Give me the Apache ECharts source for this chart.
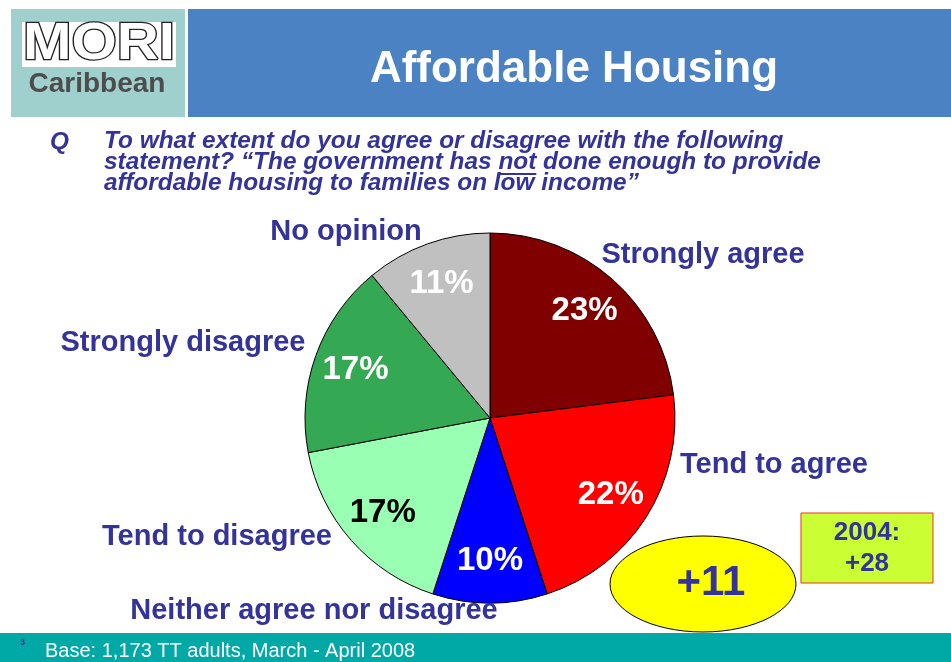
<!DOCTYPE html>
<html>
<head>
<meta charset="utf-8">
<script src="https://cdn.jsdelivr.net/npm/echarts@6/dist/echarts.min.js"></script>
<style>
  html, body { margin: 0; padding: 0; background: #fff; }
  #main { width: 951px; height: 662px; }
</style>
</head>
<body>
<div id="main"></div>
<script>
// survey answers, clockwise from 12 o'clock
const categories = ['Strongly agree', 'Tend to agree', 'Neither agree nor disagree', 'Tend to disagree', 'Strongly disagree', 'No opinion']
const shares = [23, 22, 10, 17, 17, 11]
const netScore = '+11'
const netScore2004 = '+28'

const sliceColors = ['#800000', '#ff0000', '#0000ff', '#99ffb3', '#34a853', '#c0c0c0']
const pctColors = ['#fff', '#fff', '#fff', '#000', '#fff', '#fff']
// where the category names sit (centre of text)
const namePos = [[703, 255], [774, 465], [314, 611], [217, 537], [183, 343], [346, 232]]

const navy = '#333399'
const qFont = 'italic bold 24.4px "Liberation Sans", Arial'
const qLine2 = 'statement? \u201cThe government has '

// measure where "not" falls so it can be underlined
const ctx = document.createElement('canvas').getContext('2d')
ctx.font = qFont
const notX = 104 + ctx.measureText(qLine2).width
const notW = ctx.measureText('not').width

const chart = echarts.init(document.getElementById('main'))

chart.setOption({
  backgroundColor: '#fff',
  animation: false,
  graphic: [
    { type: 'rect', shape: { x: 11, y: 9, width: 174, height: 108 }, style: { fill: '#9fd0cd' } },
    { type: 'rect', shape: { x: 188, y: 9, width: 763, height: 108 }, style: { fill: '#4a82c3' } },
    { type: 'rect', shape: { x: 22, y: 22, width: 154, height: 45 }, style: { fill: '#fff' } },
    { type: 'text', x: 99, y: 45, scaleX: 1.12, style: { text: 'MORI', fill: '#fff', stroke: '#222', lineWidth: 2.5, font: 'bold 52px "Liberation Sans", Arial', align: 'center', verticalAlign: 'middle' } },
    { type: 'text', x: 97, y: 84, style: { text: 'Caribbean', fill: '#4d4d4d', font: 'bold 28px "Liberation Sans", Arial', align: 'center', verticalAlign: 'middle' } },
    { type: 'text', x: 574, y: 70, style: { text: 'Affordable Housing', fill: '#fff', font: 'bold 44px "Liberation Sans", Arial', align: 'center', verticalAlign: 'middle' } },
    { type: 'text', x: 50, y: 142, style: { text: 'Q', fill: navy, font: qFont, verticalAlign: 'middle' } },
    {
      type: 'text', x: 104, y: 131,
      style: {
        text: 'To what extent do you agree or disagree with the following\n' + qLine2 + 'not done enough to provide\naffordable housing to families on low income\u201d',
        fill: navy, font: qFont, lineHeight: 21, verticalAlign: 'top'
      }
    },
    { type: 'line', shape: { x1: notX, y1: 174, x2: notX + notW, y2: 174 }, style: { stroke: navy, lineWidth: 2 } },
    { type: 'ellipse', shape: { cx: 703, cy: 584, rx: 93, ry: 48 }, style: { fill: '#ffff00', stroke: '#000', lineWidth: 1 } },
    { type: 'text', x: 711, y: 583, style: { text: netScore, fill: navy, font: 'bold 42px "Liberation Sans", Arial', align: 'center', verticalAlign: 'middle' } },
    { type: 'rect', shape: { x: 801, y: 513, width: 132, height: 70 }, style: { fill: '#ccff33', stroke: '#ee3322', lineWidth: 1 } },
    { type: 'text', x: 867, y: 548, style: { text: '2004:\n' + netScore2004, fill: navy, font: 'bold 26px "Liberation Sans", Arial', lineHeight: 31, align: 'center', verticalAlign: 'middle' } },
    { type: 'rect', shape: { x: 0, y: 633, width: 951, height: 29 }, style: { fill: '#00a9a6' } },
    { type: 'text', x: 20, y: 643, style: { text: '3', fill: navy, font: 'bold 9px "Liberation Sans", Arial', verticalAlign: 'middle' } },
    { type: 'text', x: 45, y: 651, style: { text: 'Base: 1,173 TT adults, March - April 2008', fill: '#fff', font: '20px "Liberation Sans", Arial', verticalAlign: 'middle' } }
  ],
  series: [
    {
      type: 'pie',
      center: [490, 418],
      radius: [0, 185],
      startAngle: 90,
      silent: true,
      itemStyle: { borderColor: '#000', borderWidth: 1 },
      label: {
        show: true,
        position: 'outside',
        formatter: '{b}',
        color: navy,
        fontFamily: '"Liberation Sans", Arial',
        fontWeight: 'bold',
        fontSize: 29
      },
      labelLine: { show: false },
      labelLayout: (p) => ({
        x: namePos[p.dataIndex][0],
        y: namePos[p.dataIndex][1],
        align: 'center',
        verticalAlign: 'middle'
      }),
      data: categories.map((c, i) => ({ name: c, value: shares[i], itemStyle: { color: sliceColors[i] } }))
    },
    {
      type: 'pie',
      center: [490, 418],
      radius: [95, 185],
      startAngle: 90,
      silent: true,
      itemStyle: { color: 'rgba(0,0,0,0)', borderWidth: 0 },
      label: {
        show: true,
        position: 'inside',
        formatter: '{c}%',
        fontFamily: '"Liberation Sans", Arial',
        fontWeight: 'bold',
        fontSize: 33
      },
      labelLine: { show: false },
      data: categories.map((c, i) => ({ name: c, value: shares[i], label: { color: pctColors[i] } }))
    }
  ]
})
</script>
</body>
</html>
